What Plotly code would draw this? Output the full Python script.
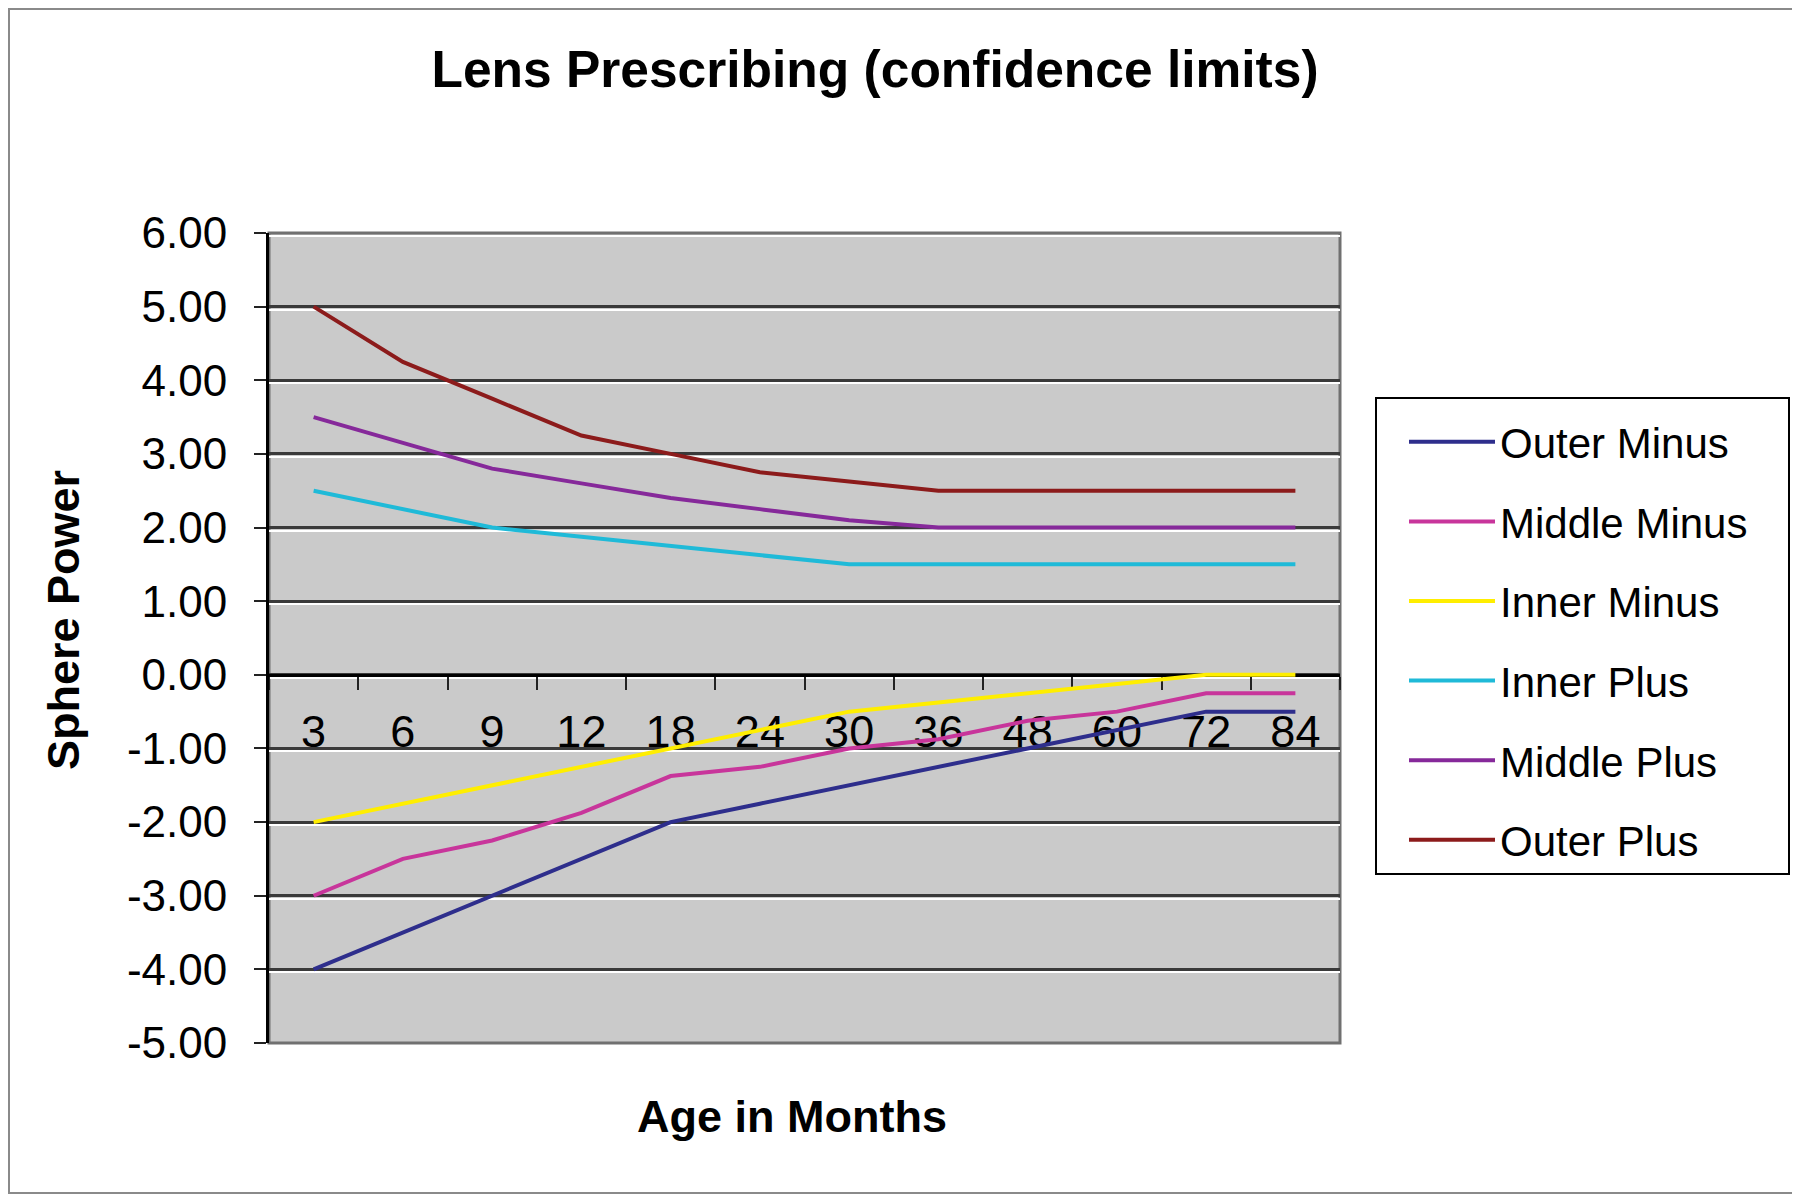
import plotly.graph_objects as go

# ---------------- data ----------------
ages = ["3", "6", "9", "12", "18", "24", "30", "36", "48", "60", "72", "84"]

outer_minus = [-4.00, -3.50, -3.00, -2.50, -2.00, -1.75, -1.50, -1.25, -1.00, -0.75, -0.50, -0.50]
middle_minus = [-3.00, -2.50, -2.25, -1.875, -1.375, -1.25, -1.00, -0.875, -0.625, -0.50, -0.25, -0.25]
inner_minus = [-2.00, -1.75, -1.50, -1.25, -1.00, -0.75, -0.50, -0.375, -0.25, -0.125, 0.00, 0.00]
inner_plus = [2.50, 2.25, 2.00, 1.875, 1.75, 1.625, 1.50, 1.50, 1.50, 1.50, 1.50, 1.50]
middle_plus = [3.50, 3.15, 2.80, 2.60, 2.40, 2.25, 2.10, 2.00, 2.00, 2.00, 2.00, 2.00]
outer_plus = [5.00, 4.25, 3.75, 3.25, 3.00, 2.75, 2.625, 2.50, 2.50, 2.50, 2.50, 2.50]

series_names = ["Outer Minus", "Middle Minus", "Inner Minus", "Inner Plus", "Middle Plus", "Outer Plus"]
series_values = [outer_minus, middle_minus, inner_minus, inner_plus, middle_plus, outer_plus]
series_colors = ["#2E2E8C", "#C8359B", "#FFEE00", "#1FBAD8", "#86299A", "#8C1B1B"]

y_tick_values = [6, 5, 4, 3, 2, 1, 0, -1, -2, -3, -4, -5]
y_tick_labels = ["6.00", "5.00", "4.00", "3.00", "2.00", "1.00", "0.00",
                 "-1.00", "-2.00", "-3.00", "-4.00", "-5.00"]

y_min, y_max = -5, 6

# ---------------- layout geometry (screen pixels; page has 8px body margin) ----------------
OFF = 8
W, H = 1800 - OFF, 1195 - OFF
L, R, T, B = 269 - OFF, 1340 - OFF, 233 - OFF, 1043 - OFF
pw, ph = R - L, B - T

def px(xs):
    return ((xs - OFF) - L) / pw

def py(ys):
    return (B - (ys - OFF)) / ph

FONT = "Liberation Sans, Arial, Helvetica, sans-serif"

fig = go.Figure()

for name, vals, col in zip(series_names, series_values, series_colors):
    fig.add_trace(go.Scatter(
        x=ages, y=vals, mode="lines", name=name,
        line=dict(color=col, width=4),
        legendgroup=name,
    ))

# invisible helper trace for the white highlight grid axis
fig.add_trace(go.Scatter(x=[ages[0]], y=[0], yaxis="y2", mode="lines",
                         showlegend=False, hoverinfo="skip",
                         line=dict(width=0, color="rgba(0,0,0,0)")))

shift = 3.0 / (ph / (y_max - y_min))

fig.update_layout(
    width=W, height=H,
    margin=dict(l=L, r=W - R, t=T, b=H - B),
    paper_bgcolor="white",
    plot_bgcolor="#CACACA",
    font=dict(family=FONT, color="black"),
    title=dict(
        text="Lens Prescribing (confidence limits)",
        font=dict(family=FONT, size=51.5, color="black", weight="bold"),
        x=(875 - OFF) / W, xanchor="center", xref="container",
        y=1 - (69 - OFF) / H, yanchor="middle", yref="container",
    ),
    xaxis=dict(
        type="category",
        range=[-0.5, len(ages) - 0.5],
        anchor="free",
        position=(0 - y_min) / (y_max - y_min),
        showline=True, linecolor="black", linewidth=3,
        ticks="outside", tickson="boundaries", ticklen=13, tickwidth=2, tickcolor="#222222",
        tickfont=dict(family=FONT, size=45, color="black"),
        ticklabelstandoff=16,
        showgrid=False, zeroline=False,
        layer="below traces",
    ),
    yaxis=dict(
        range=[y_min, y_max],
        tickmode="array", tickvals=y_tick_values, ticktext=y_tick_labels,
        showline=True, linecolor="black", linewidth=3,
        ticks="outside", ticklen=12, tickwidth=2, tickcolor="#222222",
        tickfont=dict(family=FONT, size=44, color="black"),
        ticklabelstandoff=18,
        showgrid=True, gridcolor="#3A3A3A", gridwidth=2.5,
        zeroline=False,
    ),
    yaxis2=dict(
        overlaying="y",
        range=[y_min + shift, y_max + shift],
        tickmode="array", tickvals=y_tick_values,
        showgrid=True, gridcolor="white", gridwidth=2,
        showticklabels=False, ticks="", showline=False, zeroline=False,
    ),
    legend=dict(
        x=px(1404), y=py(408), xanchor="left", yanchor="top",
        bgcolor="rgba(0,0,0,0)", borderwidth=0,
        font=dict(family=FONT, size=42, color="black"),
        tracegroupgap=22, itemwidth=86,
    ),
    showlegend=True,
)

# plot-area border (top/right/bottom gray)
fig.add_shape(type="rect", xref="paper", yref="paper", x0=0, y0=0, x1=1, y1=1,
              line=dict(color="#707070", width=3), layer="below")
# legend frame
fig.add_shape(type="rect", xref="paper", yref="paper",
              x0=px(1376), y0=py(874), x1=px(1789), y1=py(398),
              line=dict(color="black", width=2), fillcolor="white", layer="below")
# outer chart border
fig.add_shape(type="rect", xref="paper", yref="paper",
              x0=px(OFF + 1), y0=py(1193), x1=px(1797), y1=py(OFF + 1),
              line=dict(color="#8A8A8A", width=2), layer="below")

# axis titles
fig.add_annotation(text="Age in Months", xref="paper", yref="paper",
                   x=px(792), y=py(1116), xanchor="center", yanchor="middle",
                   showarrow=False, font=dict(family=FONT, size=45, color="black", weight="bold"))
fig.add_annotation(text="Sphere Power", xref="paper", yref="paper",
                   x=px(63), y=py(620), xanchor="center", yanchor="middle",
                   textangle=-90,
                   showarrow=False, font=dict(family=FONT, size=45, color="black", weight="bold"))

fig.write_html("out.html")
